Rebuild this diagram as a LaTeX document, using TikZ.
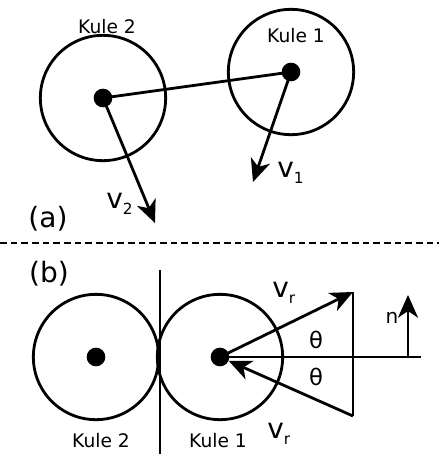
\documentclass[tikz,border=0pt]{standalone}
\usepackage{fontspec}
\setmainfont{DejaVu Sans}
\usetikzlibrary{arrows.meta}
\newcommand{\velo}[1]{v\raisebox{-0.4ex}{\fontsize{11.5}{13}\selectfont #1}}

\begin{document}
\begin{tikzpicture}[
    x=0.75pt, y=-0.75pt,
    ball/.style={draw, circle, line width=2.1pt, minimum size=94pt, inner sep=0pt},
    dot/.style={fill, circle, minimum size=14pt, inner sep=0pt},
    kule/.style={anchor=base, inner sep=0pt, font=\fontsize{14}{16}\selectfont},
    part/.style={inner sep=0pt, font=\fontsize{21}{24}\selectfont},
    vlabel/.style={anchor=base west, inner sep=0pt, font=\fontsize{21}{24}\selectfont},
    ang/.style={inner sep=0pt, font=\fontsize{17}{20}\selectfont},
    line/.style={line width=2.1pt},
    arrow/.style={line width=2.1pt, -{Stealth[length=17pt, width=15pt, inset=5pt]}}
  ]
    \useasboundingbox (0,0) rectangle (439,454);

    \node[ball] (ballTwoA) at (103,98) {};
    \node[ball] (ballOneA) at (291,72) {};
    \node[dot] (dotTwoA) at (103,98) {};
    \node[dot] (dotOneA) at (291,72) {};
    \node[kule] (kuleTwoA) at (107,33) {Kule 2};
    \node[kule] (kuleOneA) at (296,42) {Kule 1};

    \coordinate (tipTwo) at (155,223);
    \coordinate (tipOne) at (253,182);
    \draw[line] (dotTwoA.center) -- (dotOneA.center);
    \draw[arrow] (dotTwoA.center) -- (tipTwo);
    \draw[arrow] (dotOneA.center) -- (tipOne);
    \node[vlabel] (vTwo) at (106,208) {\velo{2}};
    \node[vlabel] (vOne) at (277,177) {\velo{1}};
    \node[part] (partA) at (48,219) {(a)};

    \coordinate (dashL) at (0,243);
    \coordinate (dashR) at (439,243);
    \draw[line width=1pt, dash pattern=on 5pt off 3pt] (dashL) -- (dashR);

    \node[part] (partB) at (49,274) {(b)};
    \node[ball] (ballTwoB) at (96,357) {};
    \node[ball] (ballOneB) at (220,357) {};
    \node[dot] (dotTwoB) at (96,357) {};
    \node[dot] (dotOneB) at (220,357) {};
    \node[kule] (kuleTwoB) at (101,447) {Kule 2};
    \node[kule] (kuleOneB) at (218,447) {Kule 1};

    \coordinate (touchTop) at (160,270);
    \coordinate (touchBot) at (160,454);
    \coordinate (vTop) at (353,292);
    \coordinate (vBot) at (353,416);
    \coordinate (axisEnd) at (421,357);
    \coordinate (nBase) at (408,357);
    \coordinate (nTip) at (408,295);
    \draw[line] (touchTop) -- (touchBot);
    \draw[line] (dotOneB.center) -- (axisEnd);
    \draw[line] (vTop) -- (vBot);
    \draw[arrow] (dotOneB.center) -- (vTop);
    \draw[arrow] (vBot) -- (dotOneB);
    \draw[arrow] (nBase) -- (nTip);

    \node[vlabel] (vrTop) at (272,297) {\velo{r}};
    \node[vlabel] (vrBot) at (267,438) {\velo{r}};
    \node[ang] (thetaTop) at (316,340) {θ};
    \node[ang] (thetaBot) at (316,377) {θ};
    \node[ang, font=\fontsize{15}{18}\selectfont] (nLabel) at (392,318) {n};
  \end{tikzpicture}
\end{document}
